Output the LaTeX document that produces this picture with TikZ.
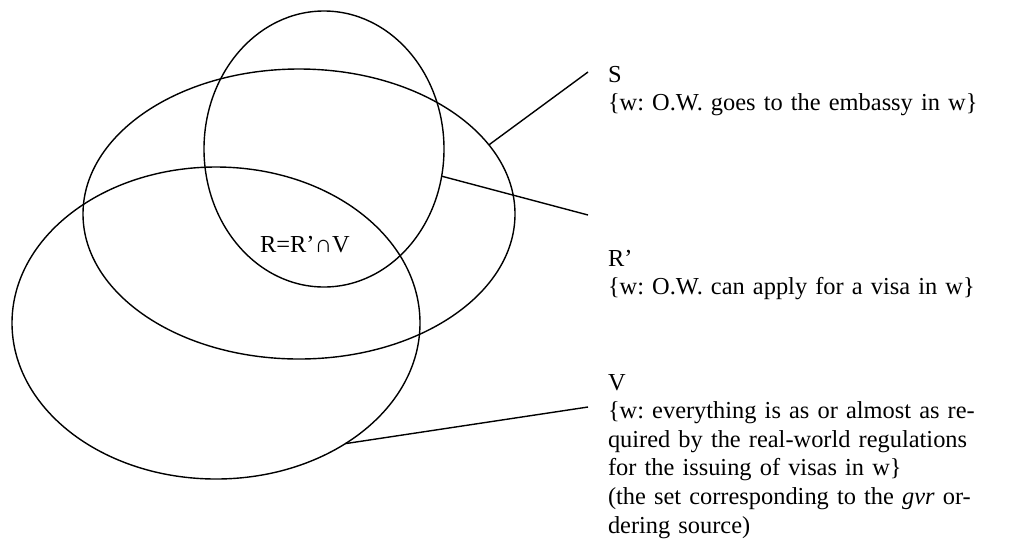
\documentclass[tikz,border=0pt]{standalone}
\usepackage{fontspec}
\setmainfont{Liberation Serif}
\usetikzlibrary{shapes.geometric}
\frenchspacing
\begin{document}
\begin{tikzpicture}[x=0.5pt,y=-0.5pt,
  setshape/.style={draw, ellipse, inner sep=0pt, outer sep=0pt, line width=0.7pt},
  leader/.style={line width=0.7pt},
  caption/.style={inner sep=0pt, outer sep=0pt, anchor=base west, text width=210pt, align=left, font=\fontsize{12.2}{14.3}\selectfont\frenchspacing},
  setlabel/.style={inner sep=0pt, anchor=base, font=\fontsize{12.2}{14.3}\selectfont}]
\useasboundingbox (0,0) rectangle (1033,548);
% sets
\node[setshape, minimum width=120pt, minimum height=138pt] (S) at (324,149) {};
\node[setshape, minimum width=216pt, minimum height=145pt] (Rp) at (299,214) {};
\node[setshape, minimum width=204pt, minimum height=156pt] (V) at (216,323) {};
\node[setlabel] (R) at (305,252) {R=R’∩V};
% captions
\node[caption] (capS) at (608,82) {S\\\{w: O.W. goes to the embassy in w\}};
\node[caption] (capR) at (608,266) {R’\\\{w: O.W. can apply for a visa in w\}};
\node[caption] (capV) at (608,390) {V\\
\makebox[210pt][s]{\{w: everything is as or almost as re-}\\
\makebox[210pt][s]{quired by the real-world regulations}\\
for the issuing of visas in w\}\\
\makebox[210pt][s]{(the set corresponding to the \textit{gvr} or-}\\
dering source)};
% leader lines
\coordinate (Send) at (588,72);
\coordinate (Rend) at (588,215);
\coordinate (Vend) at (588,407);
\draw[leader] (Rp.20) -- (Send);
\draw[leader] (S.-13.7) -- (Rend);
\draw[leader] (V.-43) -- (Vend);
\end{tikzpicture}
\end{document}
